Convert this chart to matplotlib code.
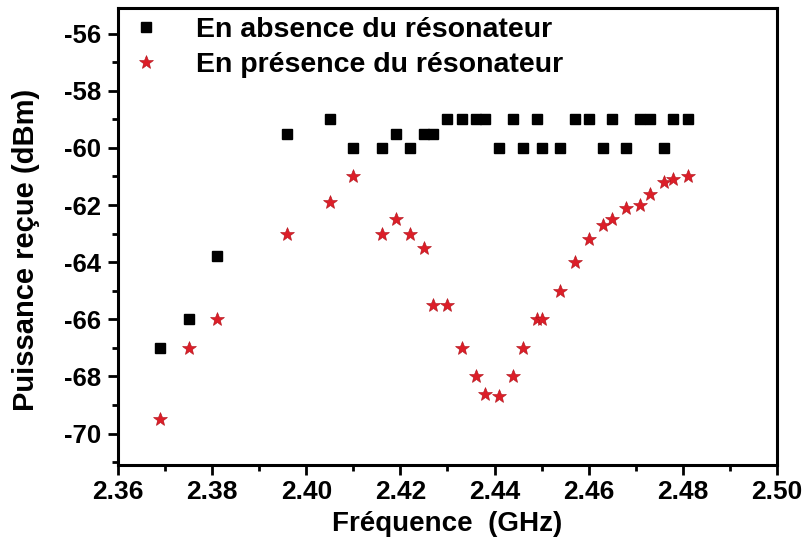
import numpy as np
import matplotlib
matplotlib.use('Agg')
import matplotlib.pyplot as plt
from matplotlib.ticker import MultipleLocator

# Fréquences (GHz)
freq = [2.369, 2.375, 2.381, 2.396, 2.405, 2.410, 2.416, 2.419, 2.422, 2.425,
        2.427, 2.430, 2.433, 2.436, 2.438, 2.441, 2.444, 2.446, 2.449, 2.450,
        2.454, 2.457, 2.460, 2.463, 2.465, 2.468, 2.471, 2.473, 2.476, 2.478,
        2.481]
# Puissance sans résonateur (dBm)
p_absence = [-67, -66, -63.8, -59.5, -59, -60, -60, -59.5, -60, -59.5,
             -59.5, -59, -59, -59, -59, -60, -59, -60, -59, -60,
             -60, -59, -59, -60, -59, -60, -59, -59, -60, -59,
             -59]
# Puissance avec résonateur (dBm)
p_presence = [-69.5, -67, -66, -63, -61.9, -61, -63, -62.5, -63, -63.5,
              -65.5, -65.5, -67, -68, -68.6, -68.7, -68, -67, -66, -66,
              -65, -64, -63.2, -62.7, -62.5, -62.1, -62, -61.6, -61.2, -61.1,
              -61]

label_absence = "En absence du résonateur"
label_presence = "En présence du résonateur"

plt.rcParams['font.family'] = ['Liberation Sans', 'DejaVu Sans']
plt.rcParams['axes.unicode_minus'] = False

fig = plt.figure(figsize=(8.06, 5.58), dpi=100)
ax = fig.add_axes([0.1464, 0.1667, 0.8176, 0.819])

ax.plot(freq, p_absence, 's', color='black', ms=7, label=label_absence)
ax.plot(freq, p_presence, '*', color='#dc1e28', ms=10.5, mec='#b01018', mew=0.4,
        label=label_presence)

ax.set_xlim(2.36, 2.50)
ax.set_ylim(-71.1, -55.1)
xt = np.arange(2.36, 2.501, 0.02)
ax.set_xticks(xt)
ax.set_xticklabels([f"{v:.2f}" for v in xt])
ax.xaxis.set_minor_locator(MultipleLocator(0.01))
ax.set_yticks(np.arange(-70, -55, 2))
ax.yaxis.set_minor_locator(MultipleLocator(1))

for s in ax.spines.values():
    s.set_linewidth(2.2)
ax.tick_params(which='major', direction='out', length=7, width=2)
ax.tick_params(which='minor', direction='out', length=4.5, width=2)
ax.tick_params(axis='x', labelsize=19, pad=4)
ax.tick_params(axis='y', labelsize=18.5, pad=5)
for lab in ax.get_xticklabels() + ax.get_yticklabels():
    lab.set_fontweight('bold')

ax.set_xlabel("Fréquence  (GHz)", fontsize=20, fontweight='bold', labelpad=5)
ax.set_ylabel("Puissance reçue (dBm)", fontsize=21, fontweight='bold')
ax.yaxis.set_label_coords(-0.118, 0.47)

leg = ax.legend(loc='upper left', frameon=False, prop={'size': 20.5, 'weight': 'bold'},
                handletextpad=1.05, borderaxespad=0.15, borderpad=0.15,
                labelspacing=0.33, handlelength=1.4)

fig.savefig('out.png', dpi=100)
